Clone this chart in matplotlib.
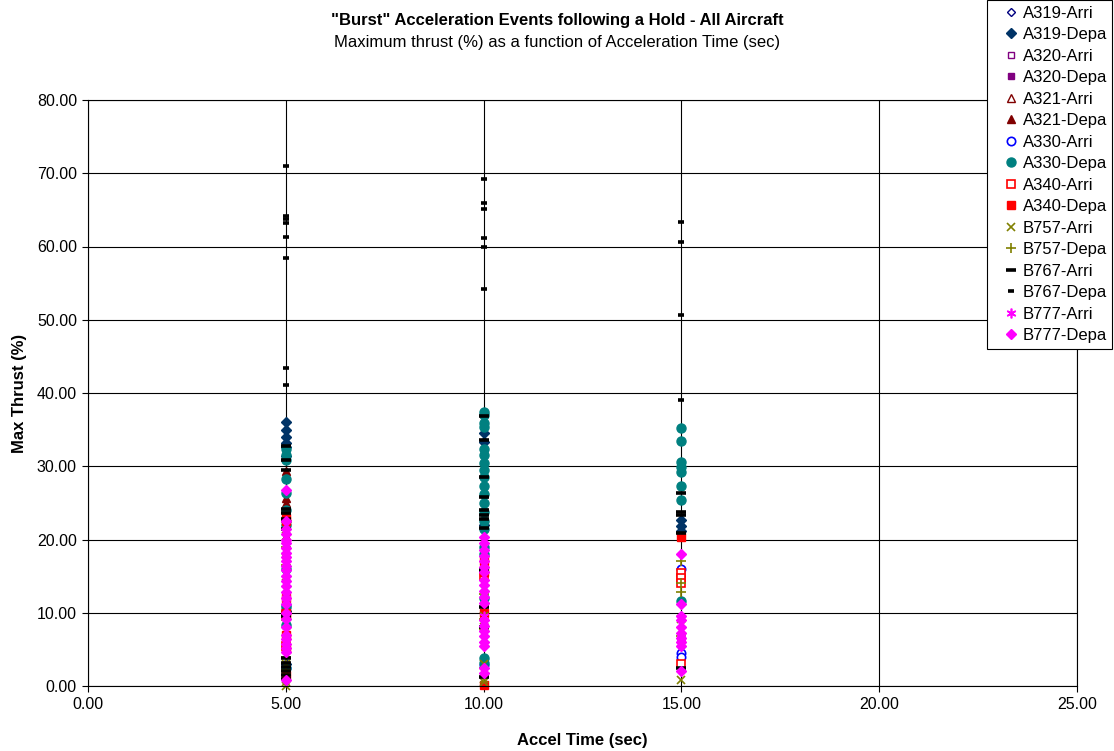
import matplotlib.pyplot as plt

plt.rcParams['font.family'] = ['Liberation Sans', 'DejaVu Sans']

# x positions of the acceleration-time groups
ACCEL = [5.0, 10.0, 15.0]

# max thrust (%) per series, one list per accel time (5, 10, 15 sec)
a319_arri = [[10.5], [], [15.0]]
a319_depa = [[36.0, 34.9, 34.0, 33.2, 32.6, 31.4, 22.5, 10.3, 3.0],
             [34.5, 33.3, 22.0],
             [22.6, 21.9, 21.2]]
a320_arri = [[1.5, 12.5], [], []]
a320_depa = [[3.0], [], []]
a321_arri = [[2.0, 8.5], [], []]
a321_depa = [[29.3, 25.7, 25.0, 20.5, 12.0], [10.5, 16.8], []]
a330_arri = [[2.5, 11.0], [2.8], [16.0, 4.5, 4.0]]
a330_depa = [[32.4, 31.6, 30.8, 28.3, 26.4, 24.0, 22.0, 16.0, 10.8, 8.3, 2.5],
             [37.4, 37.0, 35.9, 35.4, 32.3, 31.5, 30.5, 29.5, 28.5, 27.3,
              26.2, 25.0, 23.8, 22.5, 21.5, 19.0, 18.0, 12.0, 3.8, 3.2],
             [35.2, 33.4, 30.6, 29.9, 29.2, 27.3, 25.4, 11.6]]
a340_arri = [[9.8, 5.5], [15.0], [15.4, 14.8, 14.0, 3.0]]
a340_depa = [[23.0, 22.5, 12.0, 10.0, 9.5, 7.0, 5.0, 1.5],
             [0.2, 10.0, 15.5, 17.0],
             [20.4]]
b757_arri = [[0.0, 0.5, 1.2, 3.0, 14.0, 17.5, 20.5, 22.0],
             [0.5, 1.0, 3.0, 8.0, 9.5],
             [9.2, 0.8]]
b757_depa = [[2.2, 4.0, 9.0, 16.5, 19.0, 21.5],
             [2.5, 7.8, 9.2, 12.5],
             [17.0, 14.0, 12.8, 6.8]]
b767_arri = [[32.8, 30.8, 29.5, 24.2, 23.6, 22.8, 21.5, 9.5, 3.8, 3.2, 2.6,
              2.0, 1.5, 1.0],
             [36.8, 33.6, 28.6, 25.8, 24.0, 23.4, 22.8, 21.6, 15.8, 10.8, 8.0, 1.2],
             [26.3, 23.8, 23.3, 20.9, 2.5]]
b767_depa = [[71.0, 64.1, 63.7, 63.2, 61.3, 58.4, 43.4, 41.1],
             [69.2, 65.9, 65.1, 61.1, 59.9, 54.2],
             [63.3, 60.6, 50.7, 39.0]]
b777_arri = [[6.5, 5.5, 12.0], [9.5, 8.8], [6.5, 5.8]]
b777_depa = [[26.8, 22.5, 21.5, 20.8, 20.0, 19.5, 18.9, 18.2, 17.6, 17.0, 16.4,
              15.8, 15.0, 14.3, 13.6, 12.8, 12.0, 11.2, 10.0, 9.2, 8.0, 7.0,
              6.4, 5.8, 5.2, 4.6, 0.8],
             [20.3, 19.5, 18.5, 17.8, 17.0, 16.2, 15.5, 14.5, 13.8, 13.0, 12.2,
              11.3, 9.0, 8.2, 7.5, 6.8, 6.0, 5.5, 2.4, 1.8],
             [18.0, 11.2, 9.5, 9.0, 8.0, 7.2, 6.6, 6.0, 5.5, 2.0]]

# label, data, marker, colour, filled, size, edge width
series = [
    ('A319-Arri', a319_arri, 'D', '#000080', False, 4.5, 1.0),
    ('A319-Depa', a319_depa, 'D', '#003366', True, 5, 1.0),
    ('A320-Arri', a320_arri, 's', '#800080', False, 5, 1.0),
    ('A320-Depa', a320_depa, 's', '#800080', True, 5, 1.0),
    ('A321-Arri', a321_arri, '^', '#800000', False, 5.5, 1.0),
    ('A321-Depa', a321_depa, '^', '#800000', True, 5.5, 1.0),
    ('A330-Arri', a330_arri, 'o', '#0000FF', False, 6, 1.2),
    ('A330-Depa', a330_depa, 'o', '#008080', True, 6.5, 1.0),
    ('A340-Arri', a340_arri, 's', '#FF0000', False, 5.5, 1.2),
    ('A340-Depa', a340_depa, 's', '#FF0000', True, 5.5, 1.0),
    ('B757-Arri', b757_arri, 'x', '#808000', True, 6, 1.2),
    ('B757-Depa', b757_depa, '+', '#808000', True, 7, 1.2),
    ('B767-Arri', b767_arri, '_', '#000000', True, 7, 2.6),
    ('B767-Depa', b767_depa, '_', '#000000', True, 4.5, 2.6),
    ('B777-Arri', b777_arri, (6, 2, 0), '#FF00FF', True, 7, 1.2),
    ('B777-Depa', b777_depa, 'D', '#FF00FF', True, 5.5, 1.0),
]

fig = plt.figure(figsize=(11.14, 7.51), dpi=100)
ax = fig.add_axes([88 / 1114, 1 - 686 / 751, (1077 - 88) / 1114, (686 - 100) / 751])

for label, data, marker, color, filled, size, mew in series:
    xs, ys = [], []
    for x, vals in zip(ACCEL, data):
        xs += [x] * len(vals)
        ys += vals
    ax.plot(xs, ys, linestyle='none', marker=marker, markersize=size,
            markeredgewidth=mew, color=color,
            markerfacecolor=color if filled else 'white',
            markeredgecolor=color, label=label, clip_on=False)

ax.set_xlim(0, 25)
ax.set_ylim(0, 80)
ax.set_xticks([0, 5, 10, 15, 20, 25])
ax.set_yticks(range(0, 81, 10))
ax.xaxis.set_major_formatter(plt.FormatStrFormatter('%.2f'))
ax.yaxis.set_major_formatter(plt.FormatStrFormatter('%.2f'))
ax.tick_params(labelsize=11.5, direction='out', length=4, width=0.8, pad=4)
ax.grid(True, color='black', linewidth=0.8)
ax.set_axisbelow(True)
for s in ax.spines.values():
    s.set_color('black')
    s.set_linewidth(0.8)

ax.set_xlabel('Accel Time (sec)', fontsize=12, fontweight='bold', labelpad=15)
ax.set_ylabel('Max Thrust (%)', fontsize=12, fontweight='bold', labelpad=7)

fig.text(0.5, 1 - 21 / 751, '"Burst" Acceleration Events following a Hold - All Aircraft',
         ha='center', va='center', fontsize=12, fontweight='bold')
fig.text(0.5, 1 - 42 / 751, 'Maximum thrust (%) as a function of Acceleration Time (sec)',
         ha='center', va='center', fontsize=12)

leg = fig.legend(loc='upper right', bbox_to_anchor=(0.9985, 0.9995), fontsize=12,
                 frameon=True, fancybox=False, edgecolor='black', framealpha=1,
                 labelspacing=0.39, handlelength=2.2, handletextpad=-0.4,
                 borderpad=0.32, borderaxespad=0)
leg.get_frame().set_linewidth(0.8)

fig.savefig('out.png', dpi=100)
